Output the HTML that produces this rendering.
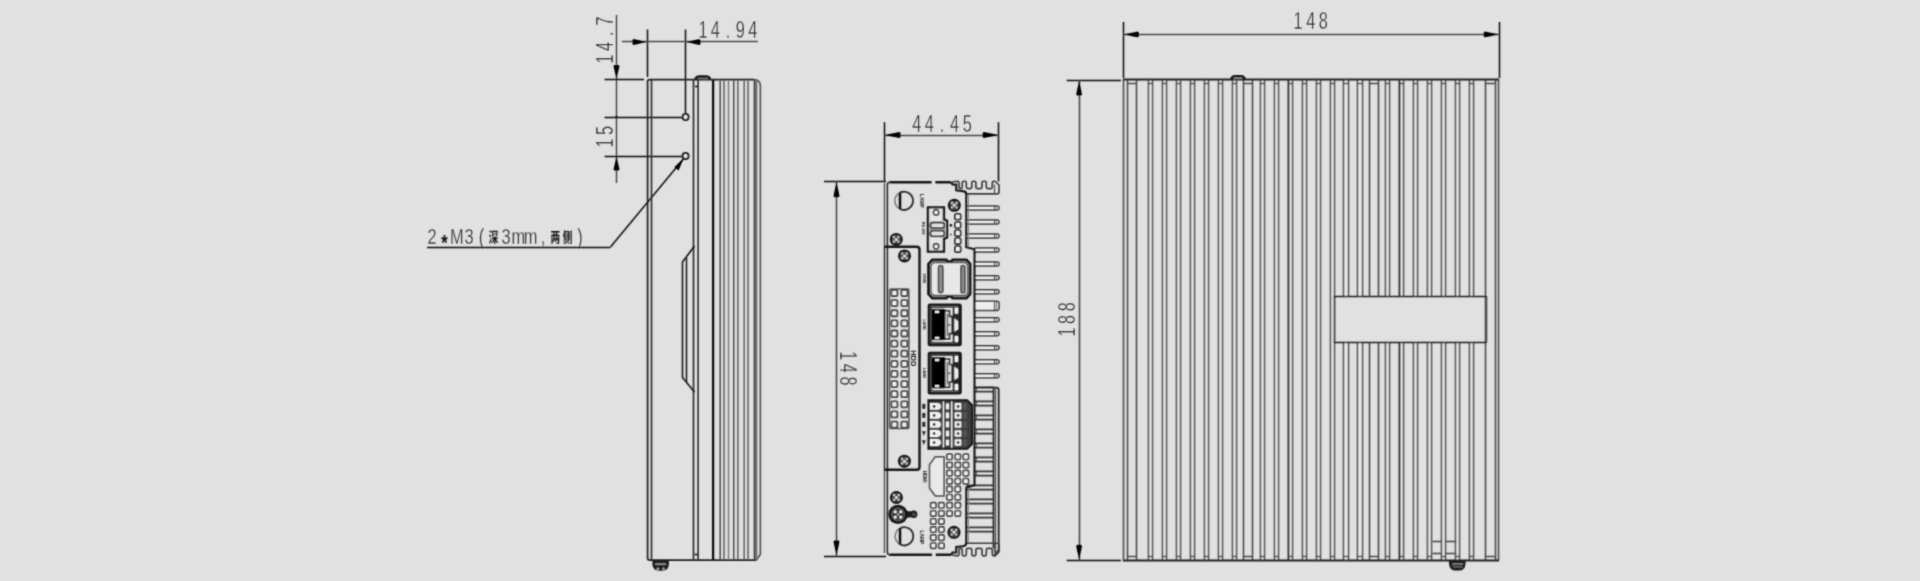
<!DOCTYPE html>
<html lang="zh">
<head>
<meta charset="utf-8">
<title>Dimensions</title>
<style>
html,body{margin:0;padding:0;background:#e1e1e1;}
body{width:1920px;height:581px;overflow:hidden;font-family:"Liberation Sans","Noto Sans CJK SC",sans-serif;}
svg{display:block}
</style>
</head>
<body>
<svg width="1920" height="581" viewBox="0 0 1920 581">
<defs><filter id="soft" x="0" y="0" width="1920" height="581" filterUnits="userSpaceOnUse"><feConvolveMatrix order="3" kernelMatrix="0.03108 0.11414 0.03108 0.11414 0.41911 0.11414 0.03108 0.11414 0.03108" edgeMode="duplicate" preserveAlpha="false"/></filter></defs>
<rect x="0" y="0" width="1920" height="581" fill="#e1e1e1"/>
<g filter="url(#soft)">
<g id="left-view">
<line x1="647.5" y1="29.5" x2="647.5" y2="77" stroke="#161616" stroke-width="1.5" />
<line x1="685.5" y1="29.5" x2="685.5" y2="113.5" stroke="#161616" stroke-width="1.5" />
<line x1="622" y1="41.5" x2="757.8" y2="41.5" stroke="#4a4a4a" stroke-width="1.6" />
<polygon points="647.5,42.0 643.0,42.8 638.2,44.0 633.5,45.0 632.5,44.1 632.5,39.9 633.5,39.0 638.2,40.0 643.0,41.2" fill="#000"/>
<polygon points="685.5,42.0 690.0,42.8 694.8,44.0 699.5,45.0 700.5,44.1 700.5,39.9 699.5,39.0 694.8,40.0 690.0,41.2" fill="#000"/>
<text transform="translate(702.9,38.2) rotate(0) scale(0.7,1)" font-family="&quot;Liberation Sans&quot;, &quot;Noto Sans CJK SC&quot;, sans-serif" fill="#101010" stroke="#e1e1e1" stroke-width="0.34" paint-order="fill stroke"><tspan x="-6.48 11.38 32.48 47.09 64.95" dy="0" font-size="23.3" font-weight="normal">14.94</tspan></text>
<line x1="616.5" y1="15" x2="616.5" y2="183" stroke="#4a4a4a" stroke-width="1.5" />
<line x1="604.5" y1="79.5" x2="644" y2="79.5" stroke="#161616" stroke-width="1.5" />
<line x1="604.5" y1="117.5" x2="682" y2="117.5" stroke="#161616" stroke-width="1.5" />
<line x1="604.5" y1="156.5" x2="682" y2="156.5" stroke="#161616" stroke-width="1.5" />
<polygon points="616.5,79.5 617.3,75.2 618.5,70.5 619.5,66.0 618.6,65.0 614.4,65.0 613.5,66.0 614.5,70.5 615.7,75.2" fill="#000"/>
<polygon points="616.5,156.0 617.3,160.3 618.5,165.0 619.5,169.5 618.6,170.5 614.4,170.5 613.5,169.5 614.5,165.0 615.7,160.3" fill="#000"/>
<circle cx="616.50" cy="117.00" r="1.3" fill="#161616" stroke="#161616" stroke-width="0"/>
<text transform="translate(612.7,59) rotate(-90) scale(0.7,1)" font-family="&quot;Liberation Sans&quot;, &quot;Noto Sans CJK SC&quot;, sans-serif" fill="#101010" stroke="#e1e1e1" stroke-width="0.34" paint-order="fill stroke"><tspan x="-6.48 11.52 32.76 47.52" dy="0" font-size="23.3" font-weight="normal">14.7</tspan></text>
<text transform="translate(612.7,143) rotate(-90) scale(0.7,1)" font-family="&quot;Liberation Sans&quot;, &quot;Noto Sans CJK SC&quot;, sans-serif" fill="#101010" stroke="#e1e1e1" stroke-width="0.34" paint-order="fill stroke"><tspan x="-6.48 11.52" dy="0" font-size="23.3" font-weight="normal">15</tspan></text>
<circle cx="685.60" cy="117.00" r="3" fill="#ececec" stroke="#161616" stroke-width="1.8"/>
<circle cx="685.60" cy="156.00" r="3" fill="#ececec" stroke="#161616" stroke-width="1.8"/>
<line x1="610.5" y1="247" x2="683.8" y2="158.5" stroke="#161616" stroke-width="1.6" />
<polygon points="683.6,158.6 678.6,170.5 674.4,167.0" fill="#000"/>
<text transform="translate(432.1,244.3) rotate(0) scale(0.72,1)" font-family="&quot;Liberation Sans&quot;, &quot;Noto Sans CJK SC&quot;, sans-serif" fill="#101010" stroke="#e1e1e1" stroke-width="0.34" paint-order="fill stroke"><tspan x="-6.34" dy="0" font-size="22.8" font-weight="normal">2</tspan><tspan x="12.68" dy="5.5" font-size="22.8" font-weight="bold" stroke="none">*</tspan><tspan x="24.73 44.99 64.65" dy="-5.5" font-size="22.8" font-weight="normal">M3(</tspan><tspan x="78.86" dy="-2.2" font-size="13.4" font-weight="bold" stroke="none">深</tspan><tspan x="96.33 110.28 127.39 150.83" dy="2.2" font-size="22.8" font-weight="normal">3mm,</tspan><tspan x="164.41 181.52" dy="-2.2" font-size="13.4" font-weight="bold" stroke="none">两侧</tspan><tspan x="201.54" dy="2.2" font-size="22.8" font-weight="normal">)</tspan></text>
<line x1="427" y1="247.5" x2="610.5" y2="247.5" stroke="#161616" stroke-width="1.7" />
<path d="M756.5,560.1 L649.5,560.1 Q647.6,560.1 647.6,558 L647.6,81.5 Q647.6,79.7 649.5,79.7 L754,79.7" fill="none" stroke="#222" stroke-width="1.75" />
<path d="M754,79.7 Q760.4,79.7 760.4,86.5 L760.4,554 L756.5,560.1" fill="none" stroke="#555" stroke-width="1.7" />
<line x1="651.5" y1="80" x2="651.5" y2="560" stroke="#333" stroke-width="1.7" />
<line x1="693.5" y1="80" x2="693.5" y2="560" stroke="#333" stroke-width="1.75" />
<line x1="698.1" y1="80" x2="698.1" y2="560" stroke="#222" stroke-width="1.5"/>
<line x1="713.1" y1="80" x2="713.1" y2="560" stroke="#0c0c0c" stroke-width="2.3"/>
<path d="M695.5,79.7 Q696,76.6 699.5,76.6 L706,76.6 Q709.6,76.6 710,79.7" fill="none" stroke="#161616" stroke-width="2.6" />
<line x1="698" y1="78.5" x2="708" y2="78.5" stroke="#777" stroke-width="1.5" />
<line x1="695" y1="86.5" x2="698" y2="86.5" stroke="#161616" stroke-width="1.5" />
<line x1="720.2" y1="80.5" x2="720.2" y2="559.5" stroke="#525252" stroke-width="1.6"/>
<line x1="724" y1="80.5" x2="724" y2="559.5" stroke="#666" stroke-width="1.6"/>
<line x1="728.5" y1="80.5" x2="728.5" y2="559.5" stroke="#7c7c7c" stroke-width="1.5"/>
<line x1="733.75" y1="80.5" x2="733.75" y2="559.5" stroke="#525252" stroke-width="1.6"/>
<line x1="737.9" y1="80.5" x2="737.9" y2="559.5" stroke="#666" stroke-width="1.6"/>
<line x1="744.2" y1="80.5" x2="744.2" y2="559.5" stroke="#666" stroke-width="1.6"/>
<line x1="748.1" y1="80.5" x2="748.1" y2="559.5" stroke="#666" stroke-width="1.6"/>
<line x1="754.7" y1="80.5" x2="754.7" y2="559.5" stroke="#3a3a3a" stroke-width="2"/>
<line x1="756.6" y1="80.5" x2="756.6" y2="559.5" stroke="#707070" stroke-width="1.5"/>
<path d="M694.5,246 L682.5,262 L682.5,377.5 L694.5,392" fill="none" stroke="#161616" stroke-width="1.6" />
<line x1="686.5" y1="258" x2="686.5" y2="382" stroke="#161616" stroke-width="1.4" />
<path d="M652.4,560 L668.9,560 L668.9,564.5 Q668.3,570.7 662,570.7 L659.3,570.7 Q653,570.7 652.4,564.5 Z" fill="#1c1c1c" stroke="#161616" stroke-width="0" />
<rect x="655.00" y="563.20" width="11.20" height="1.70" rx="0.6" fill="#8a8a8a" stroke="#161616" stroke-width="0" />
<circle cx="657.90" cy="568.70" r="1.25" fill="#a8a8a8" stroke="#161616" stroke-width="0"/>
<circle cx="663.50" cy="568.70" r="1.25" fill="#a8a8a8" stroke="#161616" stroke-width="0"/>
<line x1="694.5" y1="554.5" x2="698" y2="554.5" stroke="#161616" stroke-width="1.5" />
</g>
<g id="mid-view">
<line x1="884.5" y1="122.2" x2="884.5" y2="181" stroke="#161616" stroke-width="1.5" />
<line x1="998.5" y1="122.2" x2="998.5" y2="181.5" stroke="#161616" stroke-width="1.5" />
<line x1="884.5" y1="135.5" x2="998.7" y2="135.5" stroke="#4a4a4a" stroke-width="1.6" />
<polygon points="884.5,135.0 889.3,135.9 894.4,137.1 899.4,138.1 900.5,137.2 900.5,132.8 899.4,131.9 894.4,132.9 889.3,134.1" fill="#000"/>
<polygon points="998.7,135.0 993.9,135.9 988.8,137.1 983.8,138.1 982.7,137.2 982.7,132.8 983.8,131.9 988.8,132.9 993.9,134.1" fill="#000"/>
<text transform="translate(916.8,131.5) rotate(0) scale(0.7,1)" font-family="&quot;Liberation Sans&quot;, &quot;Noto Sans CJK SC&quot;, sans-serif" fill="#101010" stroke="#e1e1e1" stroke-width="0.34" paint-order="fill stroke"><tspan x="-6.48 11.52 32.76 47.52 65.52" dy="0" font-size="23.3" font-weight="normal">44.45</tspan></text>
<line x1="824" y1="181.5" x2="886" y2="181.5" stroke="#161616" stroke-width="1.5" />
<line x1="824" y1="556.5" x2="886" y2="556.5" stroke="#161616" stroke-width="1.5" />
<line x1="836.5" y1="181.3" x2="836.5" y2="556.4" stroke="#4a4a4a" stroke-width="1.6" />
<polygon points="836.5,181.2 837.3,186.0 838.5,191.1 839.5,196.1 838.6,197.2 834.4,197.2 833.5,196.1 834.5,191.1 835.7,186.0" fill="#000"/>
<polygon points="836.5,556.4 837.3,551.6 838.5,546.5 839.5,541.5 838.6,540.4 834.4,540.4 833.5,541.5 834.5,546.5 835.7,551.6" fill="#000"/>
<text transform="translate(839.6,355.8) rotate(90) scale(0.7,1)" font-family="&quot;Liberation Sans&quot;, &quot;Noto Sans CJK SC&quot;, sans-serif" fill="#101010" stroke="#e1e1e1" stroke-width="0.34" paint-order="fill stroke"><tspan x="-6.48 11.52 29.52" dy="0" font-size="23.3" font-weight="normal">148</tspan></text>
<path d="M966.3,206.00 L997.00,206.00 A2.0,2.0 0 0 1 997.00,210.00 L966.3,210.00" fill="#eeeeee" stroke="#333" stroke-width="1.5" />
<line x1="994.5" y1="206.0" x2="994.5" y2="210.0" stroke="#444" stroke-width="1.3" />
<line x1="996.5" y1="206.4" x2="996.5" y2="209.6" stroke="#777" stroke-width="1.2" />
<path d="M966.3,219.97 L997.00,219.97 A2.0,2.0 0 0 1 997.00,223.97 L966.3,223.97" fill="#eeeeee" stroke="#333" stroke-width="1.5" />
<line x1="994.5" y1="219.97" x2="994.5" y2="223.97" stroke="#444" stroke-width="1.3" />
<line x1="996.5" y1="220.37" x2="996.5" y2="223.57" stroke="#777" stroke-width="1.2" />
<path d="M966.3,233.94 L997.00,233.94 A2.0,2.0 0 0 1 997.00,237.94 L966.3,237.94" fill="#eeeeee" stroke="#333" stroke-width="1.5" />
<line x1="994.5" y1="233.94" x2="994.5" y2="237.94" stroke="#444" stroke-width="1.3" />
<line x1="996.5" y1="234.34" x2="996.5" y2="237.54" stroke="#777" stroke-width="1.2" />
<path d="M974.5,247.91 L997.00,247.91 A2.0,2.0 0 0 1 997.00,251.91 L974.5,251.91" fill="#eeeeee" stroke="#333" stroke-width="1.5" />
<line x1="994.5" y1="247.91" x2="994.5" y2="251.91" stroke="#444" stroke-width="1.3" />
<line x1="996.5" y1="248.31" x2="996.5" y2="251.51" stroke="#777" stroke-width="1.2" />
<path d="M974.5,261.88 L997.00,261.88 A2.0,2.0 0 0 1 997.00,265.88 L974.5,265.88" fill="#eeeeee" stroke="#333" stroke-width="1.5" />
<line x1="994.5" y1="261.88" x2="994.5" y2="265.88" stroke="#444" stroke-width="1.3" />
<line x1="996.5" y1="262.28" x2="996.5" y2="265.48" stroke="#777" stroke-width="1.2" />
<path d="M974.5,275.85 L997.00,275.85 A2.0,2.0 0 0 1 997.00,279.85 L974.5,279.85" fill="#eeeeee" stroke="#333" stroke-width="1.5" />
<line x1="994.5" y1="275.85" x2="994.5" y2="279.85" stroke="#444" stroke-width="1.3" />
<line x1="996.5" y1="276.25" x2="996.5" y2="279.45000000000005" stroke="#777" stroke-width="1.2" />
<path d="M974.5,289.82 L997.00,289.82 A2.0,2.0 0 0 1 997.00,293.82 L974.5,293.82" fill="#eeeeee" stroke="#333" stroke-width="1.5" />
<line x1="994.5" y1="289.82" x2="994.5" y2="293.82" stroke="#444" stroke-width="1.3" />
<line x1="996.5" y1="290.21999999999997" x2="996.5" y2="293.42" stroke="#777" stroke-width="1.2" />
<path d="M974.5,301.19 L996.6,301.19 Q999,301.19 999,303.59 L999,307.99 Q999,310.39 996.6,310.39 L974.5,310.39" fill="#eeeeee" stroke="#333" stroke-width="1.5" />
<line x1="994.5" y1="301.19" x2="994.5" y2="310.39000000000004" stroke="#444" stroke-width="1.3" />
<line x1="996.5" y1="301.59000000000003" x2="996.5" y2="309.99" stroke="#777" stroke-width="1.2" />
<path d="M974.5,317.76 L997.00,317.76 A2.0,2.0 0 0 1 997.00,321.76 L974.5,321.76" fill="#eeeeee" stroke="#333" stroke-width="1.5" />
<line x1="994.5" y1="317.76" x2="994.5" y2="321.76" stroke="#444" stroke-width="1.3" />
<line x1="996.5" y1="318.15999999999997" x2="996.5" y2="321.36" stroke="#777" stroke-width="1.2" />
<path d="M974.5,331.73 L997.00,331.73 A2.0,2.0 0 0 1 997.00,335.73 L974.5,335.73" fill="#eeeeee" stroke="#333" stroke-width="1.5" />
<line x1="994.5" y1="331.73" x2="994.5" y2="335.73" stroke="#444" stroke-width="1.3" />
<line x1="996.5" y1="332.13" x2="996.5" y2="335.33000000000004" stroke="#777" stroke-width="1.2" />
<path d="M974.5,345.70 L997.00,345.70 A2.0,2.0 0 0 1 997.00,349.70 L974.5,349.70" fill="#eeeeee" stroke="#333" stroke-width="1.5" />
<line x1="994.5" y1="345.70000000000005" x2="994.5" y2="349.70000000000005" stroke="#444" stroke-width="1.3" />
<line x1="996.5" y1="346.1" x2="996.5" y2="349.30000000000007" stroke="#777" stroke-width="1.2" />
<path d="M974.5,359.67 L997.00,359.67 A2.0,2.0 0 0 1 997.00,363.67 L974.5,363.67" fill="#eeeeee" stroke="#333" stroke-width="1.5" />
<line x1="994.5" y1="359.67" x2="994.5" y2="363.67" stroke="#444" stroke-width="1.3" />
<line x1="996.5" y1="360.07" x2="996.5" y2="363.27000000000004" stroke="#777" stroke-width="1.2" />
<path d="M974.5,373.64 L997.00,373.64 A2.0,2.0 0 0 1 997.00,377.64 L974.5,377.64" fill="#eeeeee" stroke="#333" stroke-width="1.5" />
<line x1="994.5" y1="373.64" x2="994.5" y2="377.64" stroke="#444" stroke-width="1.3" />
<line x1="996.5" y1="374.03999999999996" x2="996.5" y2="377.24" stroke="#777" stroke-width="1.2" />
<rect x="974.50" y="387.71" width="19.10" height="3.80" rx="0" fill="#eeeeee" stroke="#161616" stroke-width="0" />
<line x1="974.5" y1="387.5" x2="993.6" y2="387.5" stroke="#262626" stroke-width="1.85" />
<line x1="974.5" y1="391.5" x2="993.6" y2="391.5" stroke="#262626" stroke-width="1.85" />
<line x1="976.5" y1="387.71000000000004" x2="976.5" y2="391.51" stroke="#555" stroke-width="1.2" />
<rect x="974.50" y="401.68" width="19.10" height="3.80" rx="0" fill="#eeeeee" stroke="#161616" stroke-width="0" />
<line x1="974.5" y1="401.5" x2="993.6" y2="401.5" stroke="#262626" stroke-width="1.85" />
<line x1="974.5" y1="405.5" x2="993.6" y2="405.5" stroke="#262626" stroke-width="1.85" />
<line x1="976.5" y1="401.68000000000006" x2="976.5" y2="405.48" stroke="#555" stroke-width="1.2" />
<rect x="974.50" y="415.65" width="19.10" height="3.80" rx="0" fill="#eeeeee" stroke="#161616" stroke-width="0" />
<line x1="974.5" y1="415.5" x2="993.6" y2="415.5" stroke="#262626" stroke-width="1.85" />
<line x1="974.5" y1="419.5" x2="993.6" y2="419.5" stroke="#262626" stroke-width="1.85" />
<line x1="976.5" y1="415.65000000000003" x2="976.5" y2="419.45" stroke="#555" stroke-width="1.2" />
<rect x="974.50" y="429.62" width="19.10" height="3.80" rx="0" fill="#eeeeee" stroke="#161616" stroke-width="0" />
<line x1="974.5" y1="429.5" x2="993.6" y2="429.5" stroke="#262626" stroke-width="1.85" />
<line x1="974.5" y1="433.5" x2="993.6" y2="433.5" stroke="#262626" stroke-width="1.85" />
<line x1="976.5" y1="429.62" x2="976.5" y2="433.41999999999996" stroke="#555" stroke-width="1.2" />
<rect x="974.50" y="443.59" width="19.10" height="3.80" rx="0" fill="#eeeeee" stroke="#161616" stroke-width="0" />
<line x1="974.5" y1="443.5" x2="993.6" y2="443.5" stroke="#262626" stroke-width="1.85" />
<line x1="974.5" y1="447.5" x2="993.6" y2="447.5" stroke="#262626" stroke-width="1.85" />
<line x1="976.5" y1="443.59000000000003" x2="976.5" y2="447.39" stroke="#555" stroke-width="1.2" />
<rect x="974.50" y="457.56" width="19.10" height="3.80" rx="0" fill="#eeeeee" stroke="#161616" stroke-width="0" />
<line x1="974.5" y1="457.5" x2="993.6" y2="457.5" stroke="#262626" stroke-width="1.85" />
<line x1="974.5" y1="461.5" x2="993.6" y2="461.5" stroke="#262626" stroke-width="1.85" />
<line x1="976.5" y1="457.56000000000006" x2="976.5" y2="461.36" stroke="#555" stroke-width="1.2" />
<rect x="974.50" y="471.53" width="19.10" height="3.80" rx="0" fill="#eeeeee" stroke="#161616" stroke-width="0" />
<line x1="974.5" y1="471.5" x2="993.6" y2="471.5" stroke="#262626" stroke-width="1.85" />
<line x1="974.5" y1="475.5" x2="993.6" y2="475.5" stroke="#262626" stroke-width="1.85" />
<line x1="976.5" y1="471.53000000000003" x2="976.5" y2="475.33" stroke="#555" stroke-width="1.2" />
<rect x="966.30" y="485.50" width="27.30" height="3.80" rx="0" fill="#eeeeee" stroke="#161616" stroke-width="0" />
<line x1="966.3" y1="485.5" x2="993.6" y2="485.5" stroke="#262626" stroke-width="1.85" />
<line x1="966.3" y1="489.5" x2="993.6" y2="489.5" stroke="#262626" stroke-width="1.85" />
<line x1="968.5" y1="485.50000000000006" x2="968.5" y2="489.3" stroke="#555" stroke-width="1.2" />
<rect x="966.30" y="499.47" width="27.30" height="3.80" rx="0" fill="#eeeeee" stroke="#161616" stroke-width="0" />
<line x1="966.3" y1="499.5" x2="993.6" y2="499.5" stroke="#262626" stroke-width="1.85" />
<line x1="966.3" y1="503.5" x2="993.6" y2="503.5" stroke="#262626" stroke-width="1.85" />
<line x1="968.5" y1="499.47" x2="968.5" y2="503.27" stroke="#555" stroke-width="1.2" />
<rect x="966.30" y="513.44" width="27.30" height="3.80" rx="0" fill="#eeeeee" stroke="#161616" stroke-width="0" />
<line x1="966.3" y1="513.5" x2="993.6" y2="513.5" stroke="#262626" stroke-width="1.85" />
<line x1="966.3" y1="517.5" x2="993.6" y2="517.5" stroke="#262626" stroke-width="1.85" />
<line x1="968.5" y1="513.44" x2="968.5" y2="517.24" stroke="#555" stroke-width="1.2" />
<rect x="966.30" y="527.41" width="27.30" height="3.80" rx="0" fill="#eeeeee" stroke="#161616" stroke-width="0" />
<line x1="966.3" y1="527.5" x2="993.6" y2="527.5" stroke="#262626" stroke-width="1.85" />
<line x1="966.3" y1="531.5" x2="993.6" y2="531.5" stroke="#262626" stroke-width="1.85" />
<line x1="968.5" y1="527.41" x2="968.5" y2="531.2099999999999" stroke="#555" stroke-width="1.2" />
<path d="M974.5,387.7 L996.5,387.7 Q998.7,387.7 998.7,390 L998.7,550 L994.2,555.6" fill="none" stroke="#262626" stroke-width="1.8" />
<line x1="993.5" y1="387.7" x2="993.5" y2="548" stroke="#262626" stroke-width="1.8" />
<line x1="995.5" y1="388" x2="995.5" y2="553" stroke="#555" stroke-width="1.4" />
<path d="M951.8,182 L957.4,181.2 Q959,181.2 959,182.79999999999998 L959,187.0 Q959,188.6 960.5,188.6 L960.7,188.6 Q962.2,188.6 962.2,187.0 L962.2,182.79999999999998 Q962.2,181.2 963.8000000000001,181.2 L964.6999999999999,181.2 Q966.3,181.2 966.3,182.79999999999998 L966.3,187.0 Q966.3,188.6 967.8,188.6 L970.3,188.6 Q971.8,188.6 971.8,187.0 L971.8,182.79999999999998 Q971.8,181.2 973.4,181.2 L974.3,181.2 Q975.9,181.2 975.9,182.79999999999998 L975.9,187.0 Q975.9,188.6 977.4,188.6 L980.5,188.6 Q982,188.6 982,187.0 L982,182.79999999999998 Q982,181.2 983.6,181.2 L984.6999999999999,181.2 Q986.3,181.2 986.3,182.79999999999998 L986.3,187.0 Q986.3,188.6 987.8,188.6 L990.8,188.6 Q992.3,188.6 992.3,187.0 L992.3,182.79999999999998 Q992.3,181.2 993.9,181.2 L995,181.2 L999,185 L999,192 Q999,193.8 997.2,193.8 L966.5,193.8" fill="none" stroke="#3c3c3c" stroke-width="1.65" />
<path d="M951.8,555.0 L957.4,555.8 Q959,555.8 959,554.2 L959,550.0 Q959,548.4 960.5,548.4 L960.7,548.4 Q962.2,548.4 962.2,550.0 L962.2,554.2 Q962.2,555.8 963.8000000000001,555.8 L964.6999999999999,555.8 Q966.3,555.8 966.3,554.2 L966.3,550.0 Q966.3,548.4 967.8,548.4 L970.3,548.4 Q971.8,548.4 971.8,550.0 L971.8,554.2 Q971.8,555.8 973.4,555.8 L974.3,555.8 Q975.9,555.8 975.9,554.2 L975.9,550.0 Q975.9,548.4 977.4,548.4 L980.5,548.4 Q982,548.4 982,550.0 L982,554.2 Q982,555.8 983.6,555.8 L984.6999999999999,555.8 Q986.3,555.8 986.3,554.2 L986.3,550.0 Q986.3,548.4 987.8,548.4 L990.8,548.4 Q992.3,548.4 992.3,550.0 L992.3,554.2 Q992.3,555.8 993.9,555.8 L995,555.8 L999,552.0 L999,545.0 Q999,543.2 997.2,543.2 L966.5,543.2" fill="none" stroke="#3c3c3c" stroke-width="1.65" />
<line x1="994.5" y1="184.5" x2="994.5" y2="193.5" stroke="#555" stroke-width="1.3" />
<line x1="994.5" y1="552.8" x2="994.5" y2="543.8" stroke="#555" stroke-width="1.3" />
<path d="M889.5,182.3 L931.6,182.3 M935.4,182.3 L951,182.3" fill="none" stroke="#161616" stroke-width="2.4" />
<path d="M889.5,554.8 L932,554.8 M935.8,554.8 L951,554.8" fill="none" stroke="#161616" stroke-width="2.4" />
<path d="M889.5,182.3 Q887.4,182.3 887.4,185 L887.4,552 Q887.4,554.8 889.5,554.8" fill="none" stroke="#222" stroke-width="1.5" />
<line x1="884.5" y1="183" x2="884.5" y2="246" stroke="#555" stroke-width="1.5" />
<line x1="884.5" y1="470.4" x2="884.5" y2="553" stroke="#555" stroke-width="1.5" />
<path d="M951,182.3 L952.6,184.5 L956.3,184.6 L956.3,190.4 L963,191.1 Q966.3,191.3 966.3,194.5 L966.3,247.3 L974.5,249.3 L974.5,485.6 L966.3,487.6 L966.3,542.8 Q966.3,546 963,546.2 L956.3,546.9 L956.3,552.4 L952.6,552.5 L951,554.8" fill="none" stroke="#161616" stroke-width="2.1" />
<line x1="968.5" y1="195" x2="968.5" y2="247" stroke="#888" stroke-width="1.1" />
<line x1="968.5" y1="488.5" x2="968.5" y2="542" stroke="#888" stroke-width="1.1" />
<circle cx="903.90" cy="200.80" r="9.1" fill="none" stroke="#777" stroke-width="1.5"/>
<path d="M900.00,192.58 A9.1,9.1 0 1 1 900.00,209.02" fill="none" stroke="#333" stroke-width="1.8" />
<line x1="900.0" y1="192.57807808356222" x2="900.0" y2="209.0219219164378" stroke="#111" stroke-width="2.5" />
<circle cx="904.20" cy="536.30" r="9.1" fill="none" stroke="#777" stroke-width="1.5"/>
<path d="M900.30,528.08 A9.1,9.1 0 1 1 900.30,544.52" fill="none" stroke="#333" stroke-width="1.8" />
<line x1="900.0" y1="528.0780780835622" x2="900.0" y2="544.5219219164377" stroke="#111" stroke-width="2.5" />
<circle cx="954.30" cy="205.30" r="6.5" fill="#141414" stroke="#161616" stroke-width="0"/>
<circle cx="954.30" cy="205.30" r="4.4" fill="#4a4a4a" stroke="#161616" stroke-width="0"/>
<circle cx="954.30" cy="205.30" r="1.5" fill="#e2e2e2" stroke="#161616" stroke-width="0"/>
<circle cx="952.00" cy="203.00" r="1.15" fill="#cfcfcf" stroke="#161616" stroke-width="0"/>
<circle cx="956.60" cy="203.00" r="1.15" fill="#cfcfcf" stroke="#161616" stroke-width="0"/>
<circle cx="952.00" cy="207.60" r="1.15" fill="#cfcfcf" stroke="#161616" stroke-width="0"/>
<circle cx="956.60" cy="207.60" r="1.15" fill="#cfcfcf" stroke="#161616" stroke-width="0"/>
<circle cx="896.20" cy="239.40" r="6.5" fill="#141414" stroke="#161616" stroke-width="0"/>
<circle cx="896.20" cy="239.40" r="4.4" fill="#4a4a4a" stroke="#161616" stroke-width="0"/>
<circle cx="896.20" cy="239.40" r="1.5" fill="#e2e2e2" stroke="#161616" stroke-width="0"/>
<circle cx="893.90" cy="237.10" r="1.15" fill="#cfcfcf" stroke="#161616" stroke-width="0"/>
<circle cx="898.50" cy="237.10" r="1.15" fill="#cfcfcf" stroke="#161616" stroke-width="0"/>
<circle cx="893.90" cy="241.70" r="1.15" fill="#cfcfcf" stroke="#161616" stroke-width="0"/>
<circle cx="898.50" cy="241.70" r="1.15" fill="#cfcfcf" stroke="#161616" stroke-width="0"/>
<circle cx="896.40" cy="497.50" r="6.5" fill="#141414" stroke="#161616" stroke-width="0"/>
<circle cx="896.40" cy="497.50" r="4.4" fill="#4a4a4a" stroke="#161616" stroke-width="0"/>
<circle cx="896.40" cy="497.50" r="1.5" fill="#e2e2e2" stroke="#161616" stroke-width="0"/>
<circle cx="894.10" cy="495.20" r="1.15" fill="#cfcfcf" stroke="#161616" stroke-width="0"/>
<circle cx="898.70" cy="495.20" r="1.15" fill="#cfcfcf" stroke="#161616" stroke-width="0"/>
<circle cx="894.10" cy="499.80" r="1.15" fill="#cfcfcf" stroke="#161616" stroke-width="0"/>
<circle cx="898.70" cy="499.80" r="1.15" fill="#cfcfcf" stroke="#161616" stroke-width="0"/>
<circle cx="954.00" cy="532.30" r="6.5" fill="#141414" stroke="#161616" stroke-width="0"/>
<circle cx="954.00" cy="532.30" r="4.4" fill="#4a4a4a" stroke="#161616" stroke-width="0"/>
<circle cx="954.00" cy="532.30" r="1.5" fill="#e2e2e2" stroke="#161616" stroke-width="0"/>
<circle cx="951.70" cy="530.00" r="1.15" fill="#cfcfcf" stroke="#161616" stroke-width="0"/>
<circle cx="956.30" cy="530.00" r="1.15" fill="#cfcfcf" stroke="#161616" stroke-width="0"/>
<circle cx="951.70" cy="534.60" r="1.15" fill="#cfcfcf" stroke="#161616" stroke-width="0"/>
<circle cx="956.30" cy="534.60" r="1.15" fill="#cfcfcf" stroke="#161616" stroke-width="0"/>
<text transform="translate(919.8,200.8) rotate(90)" font-family="&quot;Liberation Sans&quot;, sans-serif" font-size="4.8" font-weight="bold" text-anchor="middle" fill="#222">LAMP</text>
<text transform="translate(919.6,537.4) rotate(90)" font-family="&quot;Liberation Sans&quot;, sans-serif" font-size="4.8" font-weight="bold" text-anchor="middle" fill="#222">LAMP</text>
<path d="M884.3,246.7 L916.7,246.7 Q919.5,246.7 919.5,249.5 L919.5,466.9 Q919.5,469.7 916.7,469.7 L884.3,469.7" fill="none" stroke="#161616" stroke-width="2.4" />
<line x1="884.5" y1="246" x2="884.5" y2="470.4" stroke="#222" stroke-width="1.4" />
<circle cx="904.50" cy="255.90" r="6.5" fill="#141414" stroke="#161616" stroke-width="0"/>
<circle cx="904.50" cy="255.90" r="4.4" fill="#4a4a4a" stroke="#161616" stroke-width="0"/>
<circle cx="904.50" cy="255.90" r="1.5" fill="#e2e2e2" stroke="#161616" stroke-width="0"/>
<circle cx="902.20" cy="253.60" r="1.15" fill="#cfcfcf" stroke="#161616" stroke-width="0"/>
<circle cx="906.80" cy="253.60" r="1.15" fill="#cfcfcf" stroke="#161616" stroke-width="0"/>
<circle cx="902.20" cy="258.20" r="1.15" fill="#cfcfcf" stroke="#161616" stroke-width="0"/>
<circle cx="906.80" cy="258.20" r="1.15" fill="#cfcfcf" stroke="#161616" stroke-width="0"/>
<circle cx="904.40" cy="461.20" r="6.5" fill="#141414" stroke="#161616" stroke-width="0"/>
<circle cx="904.40" cy="461.20" r="4.4" fill="#4a4a4a" stroke="#161616" stroke-width="0"/>
<circle cx="904.40" cy="461.20" r="1.5" fill="#e2e2e2" stroke="#161616" stroke-width="0"/>
<circle cx="902.10" cy="458.90" r="1.15" fill="#cfcfcf" stroke="#161616" stroke-width="0"/>
<circle cx="906.70" cy="458.90" r="1.15" fill="#cfcfcf" stroke="#161616" stroke-width="0"/>
<circle cx="902.10" cy="463.50" r="1.15" fill="#cfcfcf" stroke="#161616" stroke-width="0"/>
<circle cx="906.70" cy="463.50" r="1.15" fill="#cfcfcf" stroke="#161616" stroke-width="0"/>
<rect x="889.60" y="289.00" width="19.30" height="139.50" rx="1" fill="none" stroke="#555" stroke-width="1.5" />
<rect x="891.40" y="290.00" width="6.00" height="6.00" rx="1.3" fill="#efefef" stroke="#444" stroke-width="1.8" />
<rect x="901.40" y="290.00" width="6.00" height="6.00" rx="1.3" fill="#efefef" stroke="#444" stroke-width="1.8" />
<rect x="891.40" y="300.12" width="6.00" height="6.00" rx="1.3" fill="#efefef" stroke="#444" stroke-width="1.8" />
<rect x="901.40" y="300.12" width="6.00" height="6.00" rx="1.3" fill="#efefef" stroke="#444" stroke-width="1.8" />
<rect x="891.40" y="310.24" width="6.00" height="6.00" rx="1.3" fill="#efefef" stroke="#444" stroke-width="1.8" />
<rect x="901.40" y="310.24" width="6.00" height="6.00" rx="1.3" fill="#efefef" stroke="#444" stroke-width="1.8" />
<rect x="891.40" y="320.36" width="6.00" height="6.00" rx="1.3" fill="#efefef" stroke="#444" stroke-width="1.8" />
<rect x="901.40" y="320.36" width="6.00" height="6.00" rx="1.3" fill="#efefef" stroke="#444" stroke-width="1.8" />
<rect x="891.40" y="330.48" width="6.00" height="6.00" rx="1.3" fill="#efefef" stroke="#444" stroke-width="1.8" />
<rect x="901.40" y="330.48" width="6.00" height="6.00" rx="1.3" fill="#efefef" stroke="#444" stroke-width="1.8" />
<rect x="891.40" y="340.60" width="6.00" height="6.00" rx="1.3" fill="#efefef" stroke="#444" stroke-width="1.8" />
<rect x="901.40" y="340.60" width="6.00" height="6.00" rx="1.3" fill="#efefef" stroke="#444" stroke-width="1.8" />
<rect x="891.40" y="350.72" width="6.00" height="6.00" rx="1.3" fill="#efefef" stroke="#444" stroke-width="1.8" />
<rect x="901.40" y="350.72" width="6.00" height="6.00" rx="1.3" fill="#efefef" stroke="#444" stroke-width="1.8" />
<rect x="891.40" y="360.84" width="6.00" height="6.00" rx="1.3" fill="#efefef" stroke="#444" stroke-width="1.8" />
<rect x="901.40" y="360.84" width="6.00" height="6.00" rx="1.3" fill="#efefef" stroke="#444" stroke-width="1.8" />
<rect x="891.40" y="370.96" width="6.00" height="6.00" rx="1.3" fill="#efefef" stroke="#444" stroke-width="1.8" />
<rect x="901.40" y="370.96" width="6.00" height="6.00" rx="1.3" fill="#efefef" stroke="#444" stroke-width="1.8" />
<rect x="891.40" y="381.08" width="6.00" height="6.00" rx="1.3" fill="#efefef" stroke="#444" stroke-width="1.8" />
<rect x="901.40" y="381.08" width="6.00" height="6.00" rx="1.3" fill="#efefef" stroke="#444" stroke-width="1.8" />
<rect x="891.40" y="391.20" width="6.00" height="6.00" rx="1.3" fill="#efefef" stroke="#444" stroke-width="1.8" />
<rect x="901.40" y="391.20" width="6.00" height="6.00" rx="1.3" fill="#efefef" stroke="#444" stroke-width="1.8" />
<rect x="891.40" y="401.32" width="6.00" height="6.00" rx="1.3" fill="#efefef" stroke="#444" stroke-width="1.8" />
<rect x="901.40" y="401.32" width="6.00" height="6.00" rx="1.3" fill="#efefef" stroke="#444" stroke-width="1.8" />
<rect x="891.40" y="411.44" width="6.00" height="6.00" rx="1.3" fill="#efefef" stroke="#444" stroke-width="1.8" />
<rect x="901.40" y="411.44" width="6.00" height="6.00" rx="1.3" fill="#efefef" stroke="#444" stroke-width="1.8" />
<rect x="891.40" y="421.56" width="6.00" height="6.00" rx="1.3" fill="#efefef" stroke="#444" stroke-width="1.8" />
<rect x="901.40" y="421.56" width="6.00" height="6.00" rx="1.3" fill="#efefef" stroke="#444" stroke-width="1.8" />
<text transform="translate(911.2,358.3) rotate(90)" font-family="&quot;Liberation Sans&quot;, sans-serif" font-size="7.5" font-weight="bold" text-anchor="middle" fill="#222">HDD</text>
<path d="M928,207.4 L943.9,207.4 L943.9,219.4 L947,220.8 L947,237.4 L943.9,238.8 L943.9,251.6 L928,251.6 Z" fill="#e6e6e6" stroke="#161616" stroke-width="2.4" />
<circle cx="936.10" cy="212.40" r="2.7" fill="#f0f0f0" stroke="#333" stroke-width="1.6"/>
<circle cx="936.10" cy="246.30" r="2.7" fill="#f0f0f0" stroke="#333" stroke-width="1.6"/>
<rect x="929.60" y="221.60" width="15.40" height="15.80" rx="2" fill="#9a9a9a" stroke="#161616" stroke-width="0" />
<rect x="930.40" y="222.60" width="14.00" height="5.40" rx="2.7" fill="#e2e2e2" stroke="#333" stroke-width="1.6" />
<rect x="930.40" y="230.80" width="14.00" height="5.40" rx="2.7" fill="#e2e2e2" stroke="#333" stroke-width="1.6" />
<text transform="translate(921.8,228.2) rotate(90)" font-family="&quot;Liberation Sans&quot;, sans-serif" font-size="3.8" font-weight="bold" text-anchor="middle" fill="#222">RS-SW</text>
<rect x="954.90" y="213.90" width="5.80" height="5.80" rx="1.6" fill="#f0f0f0" stroke="#333" stroke-width="1.8" />
<rect x="954.90" y="222.10" width="5.80" height="5.80" rx="1.6" fill="#f0f0f0" stroke="#333" stroke-width="1.8" />
<rect x="954.90" y="230.20" width="5.80" height="5.80" rx="1.6" fill="#f0f0f0" stroke="#333" stroke-width="1.8" />
<rect x="954.90" y="238.20" width="5.80" height="5.80" rx="1.6" fill="#f0f0f0" stroke="#333" stroke-width="1.8" />
<rect x="954.90" y="246.20" width="5.80" height="5.80" rx="1.6" fill="#f0f0f0" stroke="#333" stroke-width="1.8" />
<circle cx="950.90" cy="225.30" r="1.35" fill="#161616" stroke="#161616" stroke-width="0"/>
<circle cx="950.90" cy="234.60" r="0.8" fill="#161616" stroke="#161616" stroke-width="0"/>
<path d="M932.4,260 L946.3,260 L947.6,261.6 L951.4,261.6 L952.7,260 L966.4,260 L970,264 L970,294 L966.4,298 L952.7,298 L951.4,296.4 L947.6,296.4 L946.3,298 L932.4,298 L928.6,294 L928.6,264 Z" fill="#e8e8e8" stroke="#161616" stroke-width="2.9" />
<path d="M933.6,262.6 L965.2,262.6 L967.6,265.2 L967.6,292.8 L965.2,295.4 L933.6,295.4 L931,292.8 L931,265.2 Z" fill="none" stroke="#444" stroke-width="1.3" />
<rect x="938.40" y="265.60" width="4.60" height="27.20" rx="2.2" fill="#8c8c8c" stroke="#444" stroke-width="1.5" />
<rect x="960.80" y="265.60" width="4.20" height="27.20" rx="2.1" fill="#8c8c8c" stroke="#444" stroke-width="1.5" />
<text transform="translate(922.8,278.5) rotate(90)" font-family="&quot;Liberation Sans&quot;, sans-serif" font-size="4.4" font-weight="bold" text-anchor="middle" fill="#222">USB</text>
<rect x="929.20" y="305.00" width="31.00" height="39.80" rx="0.8" fill="#ececec" stroke="#161616" stroke-width="3.1" />
<rect x="931.60" y="307.30" width="26.40" height="35.20" rx="0" fill="none" stroke="#333" stroke-width="1.3" />
<rect x="952.60" y="306.90" width="6.20" height="36.00" rx="0" fill="#262626" stroke="#161616" stroke-width="0" />
<rect x="954.60" y="307.50" width="3.60" height="6.20" rx="0.8" fill="#f2f2f2" stroke="#161616" stroke-width="0" />
<rect x="954.60" y="335.90" width="3.60" height="6.20" rx="0.8" fill="#f2f2f2" stroke="#161616" stroke-width="0" />
<path d="M954.3,318.3 L958.2,321.2 L958.2,329.3 L954.3,331.7 Z" fill="#ededed" stroke="#161616" stroke-width="0" />
<path d="M945,310.7 L949.6,310.7 L949.6,316.3 L952.2,316.3 L952.2,333.7 L949.6,333.7 L949.6,339.09999999999997 L945,339.09999999999997" fill="#dedede" stroke="#222" stroke-width="1.7" />
<line x1="947.5" y1="313.7" x2="947.5" y2="336.2" stroke="#555" stroke-width="1.4" />
<circle cx="949.40" cy="325.10" r="1" fill="#222" stroke="#161616" stroke-width="0"/>
<rect x="932.00" y="308.80" width="13.40" height="31.50" rx="1.4" fill="#060606" stroke="#000" stroke-width="0" />
<rect x="935.00" y="310.50" width="4.20" height="2.50" rx="0.6" fill="#e4e4e4" stroke="#000" stroke-width="0" />
<rect x="935.00" y="336.70" width="4.20" height="2.50" rx="0.6" fill="#e4e4e4" stroke="#000" stroke-width="0" />
<rect x="929.20" y="353.20" width="31.00" height="39.80" rx="0.8" fill="#ececec" stroke="#161616" stroke-width="3.1" />
<rect x="931.60" y="355.50" width="26.40" height="35.20" rx="0" fill="none" stroke="#333" stroke-width="1.3" />
<rect x="952.60" y="355.10" width="6.20" height="36.00" rx="0" fill="#262626" stroke="#161616" stroke-width="0" />
<rect x="954.60" y="355.70" width="3.60" height="6.20" rx="0.8" fill="#f2f2f2" stroke="#161616" stroke-width="0" />
<rect x="954.60" y="384.10" width="3.60" height="6.20" rx="0.8" fill="#f2f2f2" stroke="#161616" stroke-width="0" />
<path d="M954.3,366.5 L958.2,369.4 L958.2,377.5 L954.3,379.9 Z" fill="#ededed" stroke="#161616" stroke-width="0" />
<path d="M945,358.9 L949.6,358.9 L949.6,364.5 L952.2,364.5 L952.2,381.9 L949.6,381.9 L949.6,387.29999999999995 L945,387.29999999999995" fill="#dedede" stroke="#222" stroke-width="1.7" />
<line x1="947.5" y1="361.9" x2="947.5" y2="384.4" stroke="#555" stroke-width="1.4" />
<circle cx="949.40" cy="373.30" r="1" fill="#222" stroke="#161616" stroke-width="0"/>
<rect x="932.00" y="357.00" width="13.40" height="31.50" rx="1.4" fill="#060606" stroke="#000" stroke-width="0" />
<rect x="935.00" y="358.70" width="4.20" height="2.50" rx="0.6" fill="#e4e4e4" stroke="#000" stroke-width="0" />
<rect x="935.00" y="384.90" width="4.20" height="2.50" rx="0.6" fill="#e4e4e4" stroke="#000" stroke-width="0" />
<text transform="translate(922.8,324.8) rotate(90)" font-family="&quot;Liberation Sans&quot;, sans-serif" font-size="4" font-weight="bold" text-anchor="middle" fill="#222">LAN1</text>
<text transform="translate(922.8,373) rotate(90)" font-family="&quot;Liberation Sans&quot;, sans-serif" font-size="4" font-weight="bold" text-anchor="middle" fill="#222">LAN2</text>
<path d="M928.4,400.2 L967.2,400.2 L972,405 L972,444 L967.2,448.8 L928.4,448.8 Z" fill="#3c3c3c" stroke="#161616" stroke-width="1.9" />
<rect x="942.70" y="401.40" width="1.50" height="46.20" rx="0" fill="#e6e6e6" stroke="#161616" stroke-width="0" />
<rect x="951.00" y="401.40" width="1.50" height="46.20" rx="0" fill="#e6e6e6" stroke="#161616" stroke-width="0" />
<path d="M930,403.00 L936.8,403.00 Q940.9,403.00 940.9,406.40 Q940.9,409.80 936.8,409.80 L930,409.80 Z" fill="#f0f0f0" stroke="#161616" stroke-width="0" />
<circle cx="934.10" cy="406.40" r="1.35" fill="#0a0a0a" stroke="#161616" stroke-width="0"/>
<rect x="945.90" y="403.30" width="3.20" height="6.20" rx="1.2" fill="#ececec" stroke="#161616" stroke-width="0" />
<rect x="954.60" y="403.10" width="6.80" height="6.60" rx="0.8" fill="#f0f0f0" stroke="#161616" stroke-width="0" />
<circle cx="958.10" cy="406.40" r="1.35" fill="#0a0a0a" stroke="#161616" stroke-width="0"/>
<rect x="963.20" y="403.10" width="3.60" height="6.60" rx="0.5" fill="#555" stroke="#161616" stroke-width="0" />
<rect x="922.20" y="403.80" width="3.20" height="5.20" rx="1.2" fill="#2e2e2e" stroke="#161616" stroke-width="0" />
<path d="M930,412.03 L936.8,412.03 Q940.9,412.03 940.9,415.43 Q940.9,418.83 936.8,418.83 L930,418.83 Z" fill="#f0f0f0" stroke="#161616" stroke-width="0" />
<circle cx="934.10" cy="415.43" r="1.35" fill="#0a0a0a" stroke="#161616" stroke-width="0"/>
<rect x="945.90" y="412.33" width="3.20" height="6.20" rx="1.2" fill="#ececec" stroke="#161616" stroke-width="0" />
<rect x="954.60" y="412.13" width="6.80" height="6.60" rx="0.8" fill="#f0f0f0" stroke="#161616" stroke-width="0" />
<circle cx="958.10" cy="415.43" r="1.35" fill="#0a0a0a" stroke="#161616" stroke-width="0"/>
<rect x="963.20" y="412.13" width="3.60" height="6.60" rx="0.5" fill="#555" stroke="#161616" stroke-width="0" />
<rect x="922.20" y="412.83" width="3.20" height="5.20" rx="1.2" fill="#2e2e2e" stroke="#161616" stroke-width="0" />
<path d="M930,421.06 L936.8,421.06 Q940.9,421.06 940.9,424.46 Q940.9,427.86 936.8,427.86 L930,427.86 Z" fill="#f0f0f0" stroke="#161616" stroke-width="0" />
<circle cx="934.10" cy="424.46" r="1.35" fill="#0a0a0a" stroke="#161616" stroke-width="0"/>
<rect x="945.90" y="421.36" width="3.20" height="6.20" rx="1.2" fill="#ececec" stroke="#161616" stroke-width="0" />
<rect x="954.60" y="421.16" width="6.80" height="6.60" rx="0.8" fill="#f0f0f0" stroke="#161616" stroke-width="0" />
<circle cx="958.10" cy="424.46" r="1.35" fill="#0a0a0a" stroke="#161616" stroke-width="0"/>
<rect x="963.20" y="421.16" width="3.60" height="6.60" rx="0.5" fill="#555" stroke="#161616" stroke-width="0" />
<rect x="922.20" y="421.86" width="3.20" height="5.20" rx="1.2" fill="#2e2e2e" stroke="#161616" stroke-width="0" />
<path d="M930,430.09 L936.8,430.09 Q940.9,430.09 940.9,433.49 Q940.9,436.89 936.8,436.89 L930,436.89 Z" fill="#f0f0f0" stroke="#161616" stroke-width="0" />
<circle cx="934.10" cy="433.49" r="1.35" fill="#0a0a0a" stroke="#161616" stroke-width="0"/>
<rect x="945.90" y="430.39" width="3.20" height="6.20" rx="1.2" fill="#ececec" stroke="#161616" stroke-width="0" />
<rect x="954.60" y="430.19" width="6.80" height="6.60" rx="0.8" fill="#f0f0f0" stroke="#161616" stroke-width="0" />
<circle cx="958.10" cy="433.49" r="1.35" fill="#0a0a0a" stroke="#161616" stroke-width="0"/>
<rect x="963.20" y="430.19" width="3.60" height="6.60" rx="0.5" fill="#555" stroke="#161616" stroke-width="0" />
<path d="M921.8,431.29 L925.8,431.29 L923.8,435.89 Z" fill="#2e2e2e" stroke="#161616" stroke-width="0" />
<path d="M930,439.12 L936.8,439.12 Q940.9,439.12 940.9,442.52 Q940.9,445.92 936.8,445.92 L930,445.92 Z" fill="#f0f0f0" stroke="#161616" stroke-width="0" />
<circle cx="934.10" cy="442.52" r="1.35" fill="#0a0a0a" stroke="#161616" stroke-width="0"/>
<rect x="945.90" y="439.42" width="3.20" height="6.20" rx="1.2" fill="#ececec" stroke="#161616" stroke-width="0" />
<rect x="954.60" y="439.22" width="6.80" height="6.60" rx="0.8" fill="#f0f0f0" stroke="#161616" stroke-width="0" />
<circle cx="958.10" cy="442.52" r="1.35" fill="#0a0a0a" stroke="#161616" stroke-width="0"/>
<rect x="963.20" y="439.22" width="3.60" height="6.60" rx="0.5" fill="#555" stroke="#161616" stroke-width="0" />
<path d="M921.8,440.32 L925.8,440.32 L923.8,444.92 Z" fill="#2e2e2e" stroke="#161616" stroke-width="0" />
<path d="M935.2,456.8 L944,456.8 L944,495.8 L935.2,495.8 L929.5,488 L929.5,464.8 Z" fill="#e9e9e9" stroke="#555" stroke-width="1.7" />
<text transform="translate(922.6,476.6) rotate(90)" font-family="&quot;Liberation Sans&quot;, sans-serif" font-size="4.6" font-weight="bold" text-anchor="middle" fill="#222">HDMI</text>
<rect x="946.80" y="454.10" width="5.40" height="5.40" rx="1.2" fill="#efefef" stroke="#444" stroke-width="1.65" />
<rect x="955.10" y="454.10" width="5.40" height="5.40" rx="1.2" fill="#efefef" stroke="#444" stroke-width="1.65" />
<rect x="963.20" y="454.10" width="5.40" height="5.40" rx="1.2" fill="#efefef" stroke="#444" stroke-width="1.65" />
<rect x="946.80" y="462.30" width="5.40" height="5.40" rx="1.2" fill="#efefef" stroke="#444" stroke-width="1.65" />
<rect x="955.10" y="462.30" width="5.40" height="5.40" rx="1.2" fill="#efefef" stroke="#444" stroke-width="1.65" />
<rect x="963.20" y="462.30" width="5.40" height="5.40" rx="1.2" fill="#efefef" stroke="#444" stroke-width="1.65" />
<rect x="946.80" y="470.40" width="5.40" height="5.40" rx="1.2" fill="#efefef" stroke="#444" stroke-width="1.65" />
<rect x="955.10" y="470.40" width="5.40" height="5.40" rx="1.2" fill="#efefef" stroke="#444" stroke-width="1.65" />
<rect x="963.20" y="470.40" width="5.40" height="5.40" rx="1.2" fill="#efefef" stroke="#444" stroke-width="1.65" />
<rect x="946.80" y="478.50" width="5.40" height="5.40" rx="1.2" fill="#efefef" stroke="#444" stroke-width="1.65" />
<rect x="955.10" y="478.50" width="5.40" height="5.40" rx="1.2" fill="#efefef" stroke="#444" stroke-width="1.65" />
<rect x="963.20" y="478.50" width="5.40" height="5.40" rx="1.2" fill="#efefef" stroke="#444" stroke-width="1.65" />
<rect x="946.80" y="486.40" width="5.40" height="5.40" rx="1.2" fill="#efefef" stroke="#444" stroke-width="1.65" />
<rect x="955.10" y="486.40" width="5.40" height="5.40" rx="1.2" fill="#efefef" stroke="#444" stroke-width="1.65" />
<rect x="946.80" y="494.50" width="5.40" height="5.40" rx="1.2" fill="#efefef" stroke="#444" stroke-width="1.65" />
<rect x="955.10" y="494.50" width="5.40" height="5.40" rx="1.2" fill="#efefef" stroke="#444" stroke-width="1.65" />
<rect x="930.60" y="502.60" width="5.40" height="5.40" rx="1.2" fill="#efefef" stroke="#444" stroke-width="1.65" />
<rect x="938.70" y="502.60" width="5.40" height="5.40" rx="1.2" fill="#efefef" stroke="#444" stroke-width="1.65" />
<rect x="946.80" y="502.60" width="5.40" height="5.40" rx="1.2" fill="#efefef" stroke="#444" stroke-width="1.65" />
<rect x="955.10" y="502.60" width="5.40" height="5.40" rx="1.2" fill="#efefef" stroke="#444" stroke-width="1.65" />
<rect x="930.60" y="510.70" width="5.40" height="5.40" rx="1.2" fill="#efefef" stroke="#444" stroke-width="1.65" />
<rect x="938.70" y="510.70" width="5.40" height="5.40" rx="1.2" fill="#efefef" stroke="#444" stroke-width="1.65" />
<rect x="946.80" y="510.70" width="5.40" height="5.40" rx="1.2" fill="#efefef" stroke="#444" stroke-width="1.65" />
<rect x="955.10" y="510.70" width="5.40" height="5.40" rx="1.2" fill="#efefef" stroke="#444" stroke-width="1.65" />
<rect x="930.60" y="518.70" width="5.40" height="5.40" rx="1.2" fill="#efefef" stroke="#444" stroke-width="1.65" />
<rect x="938.70" y="518.70" width="5.40" height="5.40" rx="1.2" fill="#efefef" stroke="#444" stroke-width="1.65" />
<rect x="930.60" y="526.80" width="5.40" height="5.40" rx="1.2" fill="#efefef" stroke="#444" stroke-width="1.65" />
<rect x="938.70" y="526.80" width="5.40" height="5.40" rx="1.2" fill="#efefef" stroke="#444" stroke-width="1.65" />
<rect x="930.60" y="534.90" width="5.40" height="5.40" rx="1.2" fill="#efefef" stroke="#444" stroke-width="1.65" />
<rect x="938.70" y="534.90" width="5.40" height="5.40" rx="1.2" fill="#efefef" stroke="#444" stroke-width="1.65" />
<rect x="930.60" y="543.00" width="5.40" height="5.40" rx="1.2" fill="#efefef" stroke="#444" stroke-width="1.65" />
<rect x="938.70" y="543.00" width="5.40" height="5.40" rx="1.2" fill="#efefef" stroke="#444" stroke-width="1.65" />
<path d="M905,510.8 L911,511.6 L911,517.2 L905,518 Z" fill="#1a1a1a" stroke="#161616" stroke-width="0" />
<circle cx="913.70" cy="514.30" r="3.7" fill="#1a1a1a" stroke="#161616" stroke-width="0"/>
<circle cx="913.90" cy="514.30" r="1.9" fill="#4a4a4a" stroke="#161616" stroke-width="0"/>
<circle cx="898.00" cy="514.40" r="9.7" fill="#151515" stroke="#161616" stroke-width="0"/>
<circle cx="898.00" cy="514.40" r="6.9" fill="#5a5a5a" stroke="#161616" stroke-width="0"/>
<circle cx="898.00" cy="514.40" r="5.2" fill="#2e2e2e" stroke="#161616" stroke-width="0"/>
<circle cx="895.30" cy="511.70" r="1.55" fill="#f0f0f0" stroke="#161616" stroke-width="0"/>
<circle cx="900.70" cy="511.70" r="1.55" fill="#f0f0f0" stroke="#161616" stroke-width="0"/>
<circle cx="895.30" cy="517.10" r="1.55" fill="#f0f0f0" stroke="#161616" stroke-width="0"/>
<circle cx="900.70" cy="517.10" r="1.55" fill="#f0f0f0" stroke="#161616" stroke-width="0"/>
<circle cx="898.00" cy="514.40" r="1.1" fill="#bdbdbd" stroke="#161616" stroke-width="0"/>
</g>
<g id="right-view">
<line x1="1123.5" y1="22" x2="1123.5" y2="78" stroke="#161616" stroke-width="1.5" />
<line x1="1499.5" y1="22" x2="1499.5" y2="78" stroke="#161616" stroke-width="1.5" />
<line x1="1123.4" y1="34.5" x2="1499.2" y2="34.5" stroke="#4a4a4a" stroke-width="1.6" />
<polygon points="1123.4,34.4 1128.1,35.2 1133.0,36.4 1137.8,37.3 1138.9,36.4 1138.9,32.4 1137.8,31.5 1133.0,32.4 1128.1,33.6" fill="#000"/>
<polygon points="1499.2,34.4 1494.5,35.2 1489.6,36.4 1484.8,37.3 1483.7,36.4 1483.7,32.4 1484.8,31.5 1489.6,32.4 1494.5,33.6" fill="#000"/>
<text transform="translate(1298,29.3) rotate(0) scale(0.7,1)" font-family="&quot;Liberation Sans&quot;, &quot;Noto Sans CJK SC&quot;, sans-serif" fill="#101010" stroke="#e1e1e1" stroke-width="0.34" paint-order="fill stroke"><tspan x="-6.48 11.67 29.81" dy="0" font-size="23.3" font-weight="normal">148</tspan></text>
<line x1="1066.7" y1="80.5" x2="1120.9" y2="80.5" stroke="#161616" stroke-width="1.5" />
<line x1="1066.7" y1="560.5" x2="1120.9" y2="560.5" stroke="#161616" stroke-width="1.5" />
<line x1="1079.5" y1="80" x2="1079.5" y2="560" stroke="#4a4a4a" stroke-width="1.6" />
<polygon points="1079.1,80.1 1079.9,84.8 1081.1,89.7 1082.0,94.5 1081.1,95.6 1077.1,95.6 1076.2,94.5 1077.1,89.7 1078.3,84.8" fill="#000"/>
<polygon points="1079.1,560.3 1079.9,555.6 1081.1,550.7 1082.0,545.9 1081.1,544.8 1077.1,544.8 1076.2,545.9 1077.1,550.7 1078.3,555.6" fill="#000"/>
<text transform="translate(1075.3,332) rotate(-90) scale(0.7,1)" font-family="&quot;Liberation Sans&quot;, &quot;Noto Sans CJK SC&quot;, sans-serif" fill="#101010" stroke="#e1e1e1" stroke-width="0.34" paint-order="fill stroke"><tspan x="-6.48 11.52 29.52" dy="0" font-size="23.3" font-weight="normal">188</tspan></text>
<line x1="1127.5" y1="79.8" x2="1127.5" y2="560" stroke="#4c4c4c" stroke-width="1.6" />
<line x1="1136.5" y1="79.8" x2="1136.5" y2="560" stroke="#4c4c4c" stroke-width="1.6" />
<line x1="1127.5" y1="83.5" x2="1136.7" y2="83.5" stroke="#4c4c4c" stroke-width="1.5" />
<line x1="1127.5" y1="556.5" x2="1136.7" y2="556.5" stroke="#4c4c4c" stroke-width="1.5" />
<rect x="1148.60" y="79.80" width="4.10" height="480.20" rx="0" fill="#ebebeb" stroke="#161616" stroke-width="0" />
<line x1="1148.5" y1="79.8" x2="1148.5" y2="560" stroke="#4c4c4c" stroke-width="1.6" />
<line x1="1152.5" y1="79.8" x2="1152.5" y2="560" stroke="#4c4c4c" stroke-width="1.6" />
<line x1="1148.6" y1="83.5" x2="1152.6999999999998" y2="83.5" stroke="#4c4c4c" stroke-width="1.5" />
<line x1="1148.6" y1="556.5" x2="1152.6999999999998" y2="556.5" stroke="#4c4c4c" stroke-width="1.5" />
<rect x="1162.55" y="79.80" width="4.10" height="480.20" rx="0" fill="#ebebeb" stroke="#161616" stroke-width="0" />
<line x1="1162.5" y1="79.8" x2="1162.5" y2="560" stroke="#4c4c4c" stroke-width="1.6" />
<line x1="1166.5" y1="79.8" x2="1166.5" y2="560" stroke="#4c4c4c" stroke-width="1.6" />
<line x1="1162.5549999999998" y1="83.5" x2="1166.6549999999997" y2="83.5" stroke="#4c4c4c" stroke-width="1.5" />
<line x1="1162.5549999999998" y1="556.5" x2="1166.6549999999997" y2="556.5" stroke="#4c4c4c" stroke-width="1.5" />
<rect x="1176.51" y="79.80" width="4.10" height="480.20" rx="0" fill="#ebebeb" stroke="#161616" stroke-width="0" />
<line x1="1176.5" y1="79.8" x2="1176.5" y2="560" stroke="#4c4c4c" stroke-width="1.6" />
<line x1="1180.5" y1="79.8" x2="1180.5" y2="560" stroke="#4c4c4c" stroke-width="1.6" />
<line x1="1176.51" y1="83.5" x2="1180.61" y2="83.5" stroke="#4c4c4c" stroke-width="1.5" />
<line x1="1176.51" y1="556.5" x2="1180.61" y2="556.5" stroke="#4c4c4c" stroke-width="1.5" />
<rect x="1190.46" y="79.80" width="4.10" height="480.20" rx="0" fill="#ebebeb" stroke="#161616" stroke-width="0" />
<line x1="1190.5" y1="79.8" x2="1190.5" y2="560" stroke="#4c4c4c" stroke-width="1.6" />
<line x1="1194.5" y1="79.8" x2="1194.5" y2="560" stroke="#4c4c4c" stroke-width="1.6" />
<line x1="1190.465" y1="83.5" x2="1194.5649999999998" y2="83.5" stroke="#4c4c4c" stroke-width="1.5" />
<line x1="1190.465" y1="556.5" x2="1194.5649999999998" y2="556.5" stroke="#4c4c4c" stroke-width="1.5" />
<rect x="1204.42" y="79.80" width="4.10" height="480.20" rx="0" fill="#ebebeb" stroke="#161616" stroke-width="0" />
<line x1="1204.5" y1="79.8" x2="1204.5" y2="560" stroke="#4c4c4c" stroke-width="1.6" />
<line x1="1208.5" y1="79.8" x2="1208.5" y2="560" stroke="#4c4c4c" stroke-width="1.6" />
<line x1="1204.4199999999998" y1="83.5" x2="1208.5199999999998" y2="83.5" stroke="#4c4c4c" stroke-width="1.5" />
<line x1="1204.4199999999998" y1="556.5" x2="1208.5199999999998" y2="556.5" stroke="#4c4c4c" stroke-width="1.5" />
<rect x="1218.38" y="79.80" width="4.10" height="480.20" rx="0" fill="#ebebeb" stroke="#161616" stroke-width="0" />
<line x1="1218.5" y1="79.8" x2="1218.5" y2="560" stroke="#4c4c4c" stroke-width="1.6" />
<line x1="1222.5" y1="79.8" x2="1222.5" y2="560" stroke="#4c4c4c" stroke-width="1.6" />
<line x1="1218.375" y1="83.5" x2="1222.475" y2="83.5" stroke="#4c4c4c" stroke-width="1.5" />
<line x1="1218.375" y1="556.5" x2="1222.475" y2="556.5" stroke="#4c4c4c" stroke-width="1.5" />
<rect x="1232.33" y="79.80" width="4.10" height="480.20" rx="0" fill="#ebebeb" stroke="#161616" stroke-width="0" />
<line x1="1232.5" y1="79.8" x2="1232.5" y2="560" stroke="#4c4c4c" stroke-width="1.6" />
<line x1="1236.5" y1="79.8" x2="1236.5" y2="560" stroke="#4c4c4c" stroke-width="1.6" />
<line x1="1232.33" y1="83.5" x2="1236.4299999999998" y2="83.5" stroke="#4c4c4c" stroke-width="1.5" />
<line x1="1232.33" y1="556.5" x2="1236.4299999999998" y2="556.5" stroke="#4c4c4c" stroke-width="1.5" />
<line x1="1243.5" y1="79.8" x2="1243.5" y2="560" stroke="#4c4c4c" stroke-width="1.6" />
<line x1="1252.5" y1="79.8" x2="1252.5" y2="560" stroke="#4c4c4c" stroke-width="1.6" />
<line x1="1243.685" y1="83.5" x2="1252.8849999999998" y2="83.5" stroke="#4c4c4c" stroke-width="1.5" />
<line x1="1243.685" y1="556.5" x2="1252.8849999999998" y2="556.5" stroke="#4c4c4c" stroke-width="1.5" />
<rect x="1260.24" y="79.80" width="4.10" height="480.20" rx="0" fill="#ebebeb" stroke="#161616" stroke-width="0" />
<line x1="1260.5" y1="79.8" x2="1260.5" y2="560" stroke="#4c4c4c" stroke-width="1.6" />
<line x1="1264.5" y1="79.8" x2="1264.5" y2="560" stroke="#4c4c4c" stroke-width="1.6" />
<line x1="1260.24" y1="83.5" x2="1264.34" y2="83.5" stroke="#4c4c4c" stroke-width="1.5" />
<line x1="1260.24" y1="556.5" x2="1264.34" y2="556.5" stroke="#4c4c4c" stroke-width="1.5" />
<rect x="1274.19" y="79.80" width="4.10" height="480.20" rx="0" fill="#ebebeb" stroke="#161616" stroke-width="0" />
<line x1="1274.5" y1="79.8" x2="1274.5" y2="560" stroke="#4c4c4c" stroke-width="1.6" />
<line x1="1278.5" y1="79.8" x2="1278.5" y2="560" stroke="#4c4c4c" stroke-width="1.6" />
<line x1="1274.195" y1="83.5" x2="1278.2949999999998" y2="83.5" stroke="#4c4c4c" stroke-width="1.5" />
<line x1="1274.195" y1="556.5" x2="1278.2949999999998" y2="556.5" stroke="#4c4c4c" stroke-width="1.5" />
<rect x="1288.15" y="79.80" width="4.10" height="480.20" rx="0" fill="#ebebeb" stroke="#161616" stroke-width="0" />
<line x1="1288.5" y1="79.8" x2="1288.5" y2="560" stroke="#161616" stroke-width="1.8" />
<line x1="1292.5" y1="79.8" x2="1292.5" y2="560" stroke="#4c4c4c" stroke-width="1.6" />
<line x1="1288.1499999999999" y1="83.5" x2="1292.2499999999998" y2="83.5" stroke="#4c4c4c" stroke-width="1.5" />
<line x1="1288.1499999999999" y1="556.5" x2="1292.2499999999998" y2="556.5" stroke="#4c4c4c" stroke-width="1.5" />
<rect x="1302.11" y="79.80" width="4.10" height="480.20" rx="0" fill="#ebebeb" stroke="#161616" stroke-width="0" />
<line x1="1302.5" y1="79.8" x2="1302.5" y2="560" stroke="#4c4c4c" stroke-width="1.6" />
<line x1="1306.5" y1="79.8" x2="1306.5" y2="560" stroke="#4c4c4c" stroke-width="1.6" />
<line x1="1302.105" y1="83.5" x2="1306.205" y2="83.5" stroke="#4c4c4c" stroke-width="1.5" />
<line x1="1302.105" y1="556.5" x2="1306.205" y2="556.5" stroke="#4c4c4c" stroke-width="1.5" />
<rect x="1316.06" y="79.80" width="4.10" height="480.20" rx="0" fill="#ebebeb" stroke="#161616" stroke-width="0" />
<line x1="1316.5" y1="79.8" x2="1316.5" y2="560" stroke="#4c4c4c" stroke-width="1.6" />
<line x1="1320.5" y1="79.8" x2="1320.5" y2="560" stroke="#4c4c4c" stroke-width="1.6" />
<line x1="1316.06" y1="83.5" x2="1320.1599999999999" y2="83.5" stroke="#4c4c4c" stroke-width="1.5" />
<line x1="1316.06" y1="556.5" x2="1320.1599999999999" y2="556.5" stroke="#4c4c4c" stroke-width="1.5" />
<rect x="1330.01" y="79.80" width="4.10" height="480.20" rx="0" fill="#ebebeb" stroke="#161616" stroke-width="0" />
<line x1="1330.5" y1="79.8" x2="1330.5" y2="560" stroke="#4c4c4c" stroke-width="1.6" />
<line x1="1334.5" y1="79.8" x2="1334.5" y2="560" stroke="#4c4c4c" stroke-width="1.6" />
<line x1="1330.0149999999999" y1="83.5" x2="1334.1149999999998" y2="83.5" stroke="#4c4c4c" stroke-width="1.5" />
<line x1="1330.0149999999999" y1="556.5" x2="1334.1149999999998" y2="556.5" stroke="#4c4c4c" stroke-width="1.5" />
<rect x="1343.97" y="79.80" width="4.10" height="216.20" rx="0" fill="#ebebeb" stroke="#161616" stroke-width="0" />
<rect x="1343.97" y="342.60" width="4.10" height="217.40" rx="0" fill="#ebebeb" stroke="#161616" stroke-width="0" />
<line x1="1343.5" y1="79.8" x2="1343.5" y2="296" stroke="#4c4c4c" stroke-width="1.6" />
<line x1="1343.5" y1="342.6" x2="1343.5" y2="560" stroke="#4c4c4c" stroke-width="1.6" />
<line x1="1348.5" y1="79.8" x2="1348.5" y2="296" stroke="#4c4c4c" stroke-width="1.6" />
<line x1="1348.5" y1="342.6" x2="1348.5" y2="560" stroke="#4c4c4c" stroke-width="1.6" />
<line x1="1343.9699999999998" y1="83.5" x2="1348.0699999999997" y2="83.5" stroke="#4c4c4c" stroke-width="1.5" />
<line x1="1343.9699999999998" y1="556.5" x2="1348.0699999999997" y2="556.5" stroke="#4c4c4c" stroke-width="1.5" />
<rect x="1357.92" y="79.80" width="4.10" height="216.20" rx="0" fill="#ebebeb" stroke="#161616" stroke-width="0" />
<rect x="1357.92" y="342.60" width="4.10" height="217.40" rx="0" fill="#ebebeb" stroke="#161616" stroke-width="0" />
<line x1="1357.5" y1="79.8" x2="1357.5" y2="296" stroke="#4c4c4c" stroke-width="1.6" />
<line x1="1357.5" y1="342.6" x2="1357.5" y2="560" stroke="#4c4c4c" stroke-width="1.6" />
<line x1="1362.5" y1="79.8" x2="1362.5" y2="296" stroke="#4c4c4c" stroke-width="1.6" />
<line x1="1362.5" y1="342.6" x2="1362.5" y2="560" stroke="#4c4c4c" stroke-width="1.6" />
<line x1="1357.925" y1="83.5" x2="1362.0249999999999" y2="83.5" stroke="#4c4c4c" stroke-width="1.5" />
<line x1="1357.925" y1="556.5" x2="1362.0249999999999" y2="556.5" stroke="#4c4c4c" stroke-width="1.5" />
<line x1="1369.5" y1="79.8" x2="1369.5" y2="296" stroke="#4c4c4c" stroke-width="1.6" />
<line x1="1369.5" y1="342.6" x2="1369.5" y2="560" stroke="#4c4c4c" stroke-width="1.6" />
<line x1="1378.5" y1="79.8" x2="1378.5" y2="296" stroke="#4c4c4c" stroke-width="1.6" />
<line x1="1378.5" y1="342.6" x2="1378.5" y2="560" stroke="#4c4c4c" stroke-width="1.6" />
<line x1="1369.28" y1="83.5" x2="1378.4799999999998" y2="83.5" stroke="#4c4c4c" stroke-width="1.5" />
<line x1="1369.28" y1="556.5" x2="1378.4799999999998" y2="556.5" stroke="#4c4c4c" stroke-width="1.5" />
<rect x="1385.84" y="79.80" width="4.10" height="216.20" rx="0" fill="#ebebeb" stroke="#161616" stroke-width="0" />
<rect x="1385.84" y="342.60" width="4.10" height="217.40" rx="0" fill="#ebebeb" stroke="#161616" stroke-width="0" />
<line x1="1385.5" y1="79.8" x2="1385.5" y2="296" stroke="#4c4c4c" stroke-width="1.6" />
<line x1="1385.5" y1="342.6" x2="1385.5" y2="560" stroke="#4c4c4c" stroke-width="1.6" />
<line x1="1389.5" y1="79.8" x2="1389.5" y2="296" stroke="#4c4c4c" stroke-width="1.6" />
<line x1="1389.5" y1="342.6" x2="1389.5" y2="560" stroke="#4c4c4c" stroke-width="1.6" />
<line x1="1385.835" y1="83.5" x2="1389.935" y2="83.5" stroke="#4c4c4c" stroke-width="1.5" />
<line x1="1385.835" y1="556.5" x2="1389.935" y2="556.5" stroke="#4c4c4c" stroke-width="1.5" />
<rect x="1399.79" y="79.80" width="4.10" height="216.20" rx="0" fill="#ebebeb" stroke="#161616" stroke-width="0" />
<rect x="1399.79" y="342.60" width="4.10" height="217.40" rx="0" fill="#ebebeb" stroke="#161616" stroke-width="0" />
<line x1="1399.5" y1="79.8" x2="1399.5" y2="296" stroke="#161616" stroke-width="1.8" />
<line x1="1399.5" y1="342.6" x2="1399.5" y2="560" stroke="#161616" stroke-width="1.8" />
<line x1="1403.5" y1="79.8" x2="1403.5" y2="296" stroke="#4c4c4c" stroke-width="1.6" />
<line x1="1403.5" y1="342.6" x2="1403.5" y2="560" stroke="#4c4c4c" stroke-width="1.6" />
<line x1="1399.79" y1="83.5" x2="1403.8899999999999" y2="83.5" stroke="#4c4c4c" stroke-width="1.5" />
<line x1="1399.79" y1="556.5" x2="1403.8899999999999" y2="556.5" stroke="#4c4c4c" stroke-width="1.5" />
<rect x="1413.74" y="79.80" width="4.10" height="216.20" rx="0" fill="#ebebeb" stroke="#161616" stroke-width="0" />
<rect x="1413.74" y="342.60" width="4.10" height="217.40" rx="0" fill="#ebebeb" stroke="#161616" stroke-width="0" />
<line x1="1413.5" y1="79.8" x2="1413.5" y2="296" stroke="#4c4c4c" stroke-width="1.6" />
<line x1="1413.5" y1="342.6" x2="1413.5" y2="560" stroke="#4c4c4c" stroke-width="1.6" />
<line x1="1417.5" y1="79.8" x2="1417.5" y2="296" stroke="#4c4c4c" stroke-width="1.6" />
<line x1="1417.5" y1="342.6" x2="1417.5" y2="560" stroke="#4c4c4c" stroke-width="1.6" />
<line x1="1413.745" y1="83.5" x2="1417.8449999999998" y2="83.5" stroke="#4c4c4c" stroke-width="1.5" />
<line x1="1413.745" y1="556.5" x2="1417.8449999999998" y2="556.5" stroke="#4c4c4c" stroke-width="1.5" />
<rect x="1427.70" y="79.80" width="4.10" height="216.20" rx="0" fill="#ebebeb" stroke="#161616" stroke-width="0" />
<rect x="1427.70" y="342.60" width="4.10" height="217.40" rx="0" fill="#ebebeb" stroke="#161616" stroke-width="0" />
<line x1="1427.5" y1="79.8" x2="1427.5" y2="296" stroke="#4c4c4c" stroke-width="1.6" />
<line x1="1427.5" y1="342.6" x2="1427.5" y2="560" stroke="#4c4c4c" stroke-width="1.6" />
<line x1="1431.5" y1="79.8" x2="1431.5" y2="296" stroke="#4c4c4c" stroke-width="1.6" />
<line x1="1431.5" y1="342.6" x2="1431.5" y2="560" stroke="#4c4c4c" stroke-width="1.6" />
<line x1="1427.6999999999998" y1="83.5" x2="1431.7999999999997" y2="83.5" stroke="#4c4c4c" stroke-width="1.5" />
<line x1="1427.6999999999998" y1="556.5" x2="1431.7999999999997" y2="556.5" stroke="#4c4c4c" stroke-width="1.5" />
<rect x="1441.65" y="79.80" width="4.10" height="216.20" rx="0" fill="#ebebeb" stroke="#161616" stroke-width="0" />
<rect x="1441.65" y="342.60" width="4.10" height="217.40" rx="0" fill="#ebebeb" stroke="#161616" stroke-width="0" />
<line x1="1441.5" y1="79.8" x2="1441.5" y2="296" stroke="#4c4c4c" stroke-width="1.6" />
<line x1="1441.5" y1="342.6" x2="1441.5" y2="560" stroke="#4c4c4c" stroke-width="1.6" />
<line x1="1445.5" y1="79.8" x2="1445.5" y2="296" stroke="#4c4c4c" stroke-width="1.6" />
<line x1="1445.5" y1="342.6" x2="1445.5" y2="560" stroke="#4c4c4c" stroke-width="1.6" />
<line x1="1441.655" y1="83.5" x2="1445.7549999999999" y2="83.5" stroke="#4c4c4c" stroke-width="1.5" />
<line x1="1441.655" y1="556.5" x2="1445.7549999999999" y2="556.5" stroke="#4c4c4c" stroke-width="1.5" />
<rect x="1455.61" y="79.80" width="4.10" height="216.20" rx="0" fill="#ebebeb" stroke="#161616" stroke-width="0" />
<rect x="1455.61" y="342.60" width="4.10" height="217.40" rx="0" fill="#ebebeb" stroke="#161616" stroke-width="0" />
<line x1="1455.5" y1="79.8" x2="1455.5" y2="296" stroke="#4c4c4c" stroke-width="1.6" />
<line x1="1455.5" y1="342.6" x2="1455.5" y2="560" stroke="#4c4c4c" stroke-width="1.6" />
<line x1="1459.5" y1="79.8" x2="1459.5" y2="296" stroke="#4c4c4c" stroke-width="1.6" />
<line x1="1459.5" y1="342.6" x2="1459.5" y2="560" stroke="#4c4c4c" stroke-width="1.6" />
<line x1="1455.61" y1="83.5" x2="1459.7099999999998" y2="83.5" stroke="#4c4c4c" stroke-width="1.5" />
<line x1="1455.61" y1="556.5" x2="1459.7099999999998" y2="556.5" stroke="#4c4c4c" stroke-width="1.5" />
<rect x="1469.56" y="79.80" width="4.10" height="216.20" rx="0" fill="#ebebeb" stroke="#161616" stroke-width="0" />
<rect x="1469.56" y="342.60" width="4.10" height="217.40" rx="0" fill="#ebebeb" stroke="#161616" stroke-width="0" />
<line x1="1469.5" y1="79.8" x2="1469.5" y2="296" stroke="#4c4c4c" stroke-width="1.6" />
<line x1="1469.5" y1="342.6" x2="1469.5" y2="560" stroke="#4c4c4c" stroke-width="1.6" />
<line x1="1473.5" y1="79.8" x2="1473.5" y2="296" stroke="#4c4c4c" stroke-width="1.6" />
<line x1="1473.5" y1="342.6" x2="1473.5" y2="560" stroke="#4c4c4c" stroke-width="1.6" />
<line x1="1469.5649999999998" y1="83.5" x2="1473.6649999999997" y2="83.5" stroke="#4c4c4c" stroke-width="1.5" />
<line x1="1469.5649999999998" y1="556.5" x2="1473.6649999999997" y2="556.5" stroke="#4c4c4c" stroke-width="1.5" />
<line x1="1485.5" y1="79.8" x2="1485.5" y2="560" stroke="#4c4c4c" stroke-width="1.6" />
<line x1="1495.5" y1="79.8" x2="1495.5" y2="560" stroke="#4c4c4c" stroke-width="1.6" />
<line x1="1485.9" y1="83.5" x2="1495.9" y2="83.5" stroke="#4c4c4c" stroke-width="1.5" />
<line x1="1485.9" y1="556.5" x2="1495.9" y2="556.5" stroke="#4c4c4c" stroke-width="1.5" />
<line x1="1123.5" y1="79.8" x2="1123.5" y2="560" stroke="#4c4c4c" stroke-width="1.6" />
<line x1="1498.5" y1="79.8" x2="1498.5" y2="560" stroke="#4c4c4c" stroke-width="1.6" />
<line x1="1122.9" y1="79.5" x2="1499.1" y2="79.5" stroke="#222" stroke-width="1.8" />
<line x1="1122.9" y1="560.5" x2="1499.1" y2="560.5" stroke="#222" stroke-width="1.8" />
<path d="M1231.3,79.8 Q1231.8,76.3 1235,76.3 L1241,76.3 Q1244.2,76.3 1244.7,79.8" fill="none" stroke="#161616" stroke-width="2.6" />
<line x1="1234" y1="78.5" x2="1242" y2="78.5" stroke="#777" stroke-width="1.5" />
<line x1="1334.5" y1="296" x2="1334.5" y2="342.6" stroke="#4c4c4c" stroke-width="1.6" />
<line x1="1486.5" y1="296" x2="1486.5" y2="342.6" stroke="#4c4c4c" stroke-width="1.6" />
<line x1="1333.8" y1="296.5" x2="1486.5" y2="296.5" stroke="#222" stroke-width="1.7" />
<line x1="1333.8" y1="342.5" x2="1486.5" y2="342.5" stroke="#222" stroke-width="1.7" />
<line x1="1432.4" y1="541.5" x2="1441.9" y2="541.5" stroke="#4c4c4c" stroke-width="1.6" />
<line x1="1432.4" y1="553.5" x2="1441.9" y2="553.5" stroke="#4c4c4c" stroke-width="1.6" />
<line x1="1445.2" y1="541.5" x2="1456.4" y2="541.5" stroke="#4c4c4c" stroke-width="1.6" />
<line x1="1445.2" y1="553.5" x2="1456.4" y2="553.5" stroke="#4c4c4c" stroke-width="1.6" />
<path d="M1448.8,560 L1465.8,560 L1465.6,563.5 Q1465,570.6 1459,570.6 L1455.6,570.6 Q1449.6,570.6 1449,563.5 Z" fill="#1c1c1c" stroke="#161616" stroke-width="0" />
<rect x="1452.00" y="563.20" width="11.20" height="1.60" rx="0.6" fill="#8a8a8a" stroke="#161616" stroke-width="0" />
<rect x="1452.60" y="566.20" width="10.00" height="1.40" rx="0.6" fill="#777" stroke="#161616" stroke-width="0" />
</g>
</g>
</svg>
</body>
</html>
